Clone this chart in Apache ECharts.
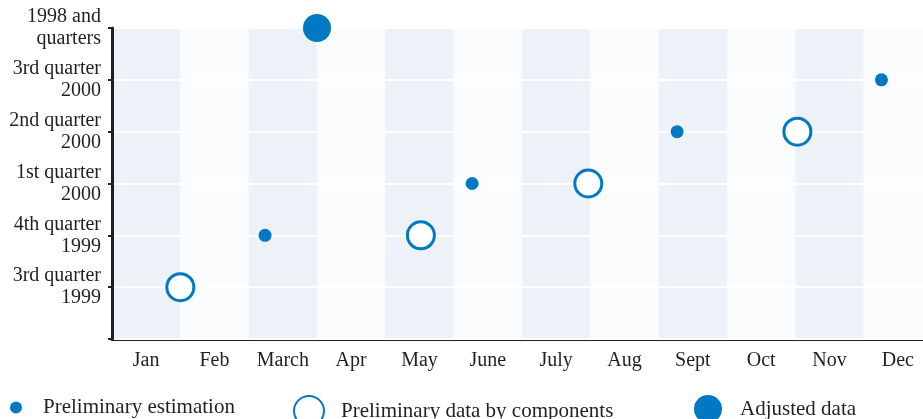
<!DOCTYPE html>
<html>
<head>
<meta charset="utf-8">
<script src="https://cdn.jsdelivr.net/npm/echarts@6/dist/echarts.min.js"></script>
<style>
  html, body { margin: 0; padding: 0; background: #fff; overflow: hidden; }
  /* the plot runs a little past the right edge of the window, as in the original */
  #chart { width: 932px; height: 419px; }
</style>
</head>
<body>
<div id="chart"></div>
<script>
var months = ['Jan', 'Feb', 'March', 'Apr', 'May', 'June', 'July', 'Aug', 'Sept', 'Oct', 'Nov', 'Dec']
var periodLabels = ['', '3rd quarter\n1999', '4th quarter\n1999', '1st quarter\n2000',
  '2nd quarter\n2000', '3rd quarter\n2000', '1998 and\nquarters']

// x in months from the start of the year, y = index into periodLabels
var estimationX = [2.24, 5.27, 8.27, 11.26]
var estimationY = [2, 3, 4, 5]
var componentsX = [1.0, 4.52, 6.97, 10.03]
var componentsY = [1, 2, 3, 4]
var adjustedX = [3.0]
var adjustedY = [6]

var names = ['Preliminary estimation', 'Preliminary data by components', 'Adjusted data']

function pairs (xs, ys) {
  return xs.map(function (x, i) { return [x, ys[i]] })
}

var blue = '#0079c2'
var ink = '#231f20'
var font = '"Liberation Serif", "DejaVu Serif", serif'
var legendText = { fontFamily: font, fontSize: 21, color: ink }

var chart = echarts.init(document.getElementById('chart'))
chart.setOption({
  animation: false,
  textStyle: { fontFamily: font },
  grid: { left: 112, top: 28, right: 0, height: 311 },
  legend: [
    {
      data: [names[0]], left: 10, top: 397, padding: 0, icon: 'circle',
      itemWidth: 12, itemHeight: 13, itemGap: 0,
      textStyle: Object.assign({ padding: [0, 0, 0, 16] }, legendText)
    },
    {
      data: [names[1]], left: 293, top: 395, padding: 0, icon: 'circle',
      itemWidth: 30, itemHeight: 30, itemGap: 0,
      textStyle: Object.assign({ padding: [0, 0, 0, 12] }, legendText)
    },
    {
      data: [names[2]], left: 694, top: 395, padding: 0, icon: 'circle',
      itemWidth: 28, itemHeight: 28, itemGap: 0,
      textStyle: Object.assign({ padding: [0, 0, 0, 13] }, legendText)
    }
  ],
  xAxis: [
    {
      type: 'category',
      data: months,
      boundaryGap: true,
      axisLine: { lineStyle: { color: ink, width: 3 } },
      axisTick: { interval: 0, length: 5, lineStyle: { color: ink, width: 3 } },
      axisLabel: { interval: 0, margin: 12, fontFamily: font, fontSize: 20, color: ink },
      splitLine: { show: false },
      splitArea: { show: true, interval: 0, areaStyle: { color: ['#edf2f9', '#fafcfe'] } }
    },
    { type: 'value', min: 0, max: 12, show: false }
  ],
  yAxis: {
    type: 'value',
    min: 0,
    max: 6,
    interval: 1,
    z: 1,
    axisLine: { show: true, lineStyle: { color: ink, width: 3 } },
    axisTick: { show: true, length: 4, lineStyle: { color: ink, width: 2 } },
    axisLabel: {
      margin: 11, fontFamily: font, fontSize: 20, lineHeight: 22, color: ink,
      formatter: function (v) { return periodLabels[v] || '' }
    },
    splitLine: { show: true, lineStyle: { color: '#ffffff', width: 2 } }
  },
  series: [
    {
      name: names[0], type: 'scatter', xAxisIndex: 1, clip: false, z: 3,
      symbolSize: 13, itemStyle: { color: blue, opacity: 1 },
      data: pairs(estimationX, estimationY)
    },
    {
      name: names[1], type: 'scatter', xAxisIndex: 1, clip: false, z: 3,
      symbolSize: 27, itemStyle: { color: '#ffffff', borderColor: blue, borderWidth: 3, opacity: 1 },
      data: pairs(componentsX, componentsY)
    },
    {
      name: names[2], type: 'scatter', xAxisIndex: 1, clip: false, z: 3,
      symbolSize: 28, itemStyle: { color: blue, opacity: 1 },
      data: pairs(adjustedX, adjustedY)
    }
  ]
})
</script>
</body>
</html>
